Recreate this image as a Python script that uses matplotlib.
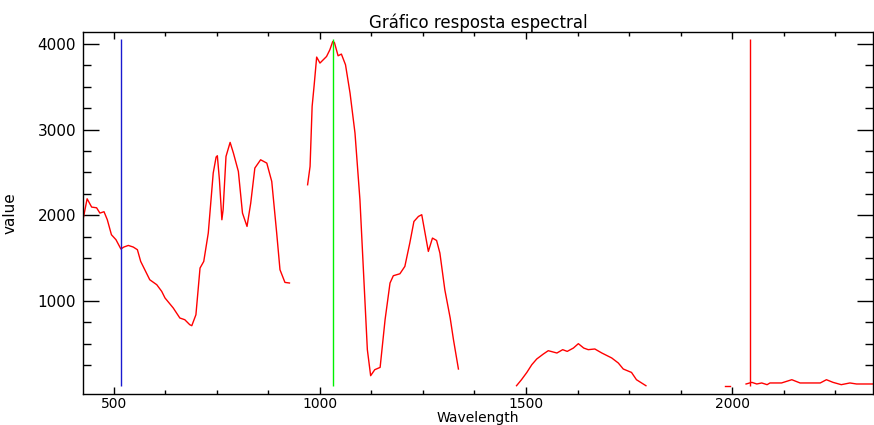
import matplotlib
matplotlib.use("Agg")
import matplotlib.pyplot as plt
from matplotlib.ticker import FixedLocator

# Spectral response data, split into visible segments
seg1_x = [425, 435, 446, 458, 466, 476, 484, 494, 505, 517, 524, 535, 547, 557, 565,
          587, 604, 616, 624, 644, 660, 672, 684, 689, 699, 709, 718, 729, 741, 748,
          751, 756, 762, 765, 772, 782, 790, 802, 812, 823, 832, 842, 856, 871, 883,
          895, 903, 915, 926]
seg1_y = [1946, 2191, 2094, 2086, 2024, 2040, 1946, 1771, 1713, 1604, 1627, 1646, 1627,
          1596, 1459, 1245, 1187, 1109, 1032, 915, 798, 778, 720, 708, 836, 1382, 1459,
          1791, 2492, 2679, 2694, 2414, 1946, 2063, 2686, 2850, 2725, 2511, 2024, 1868,
          2141, 2550, 2647, 2608, 2394, 1791, 1362, 1214, 1207]

seg2_x = [970, 976, 981, 986, 992, 1000, 1016, 1024, 1031, 1035, 1044, 1052, 1062, 1073,
          1085, 1097, 1109, 1115, 1123, 1133, 1146, 1158, 1170, 1178, 1194, 1206, 1218,
          1228, 1239, 1247, 1255, 1263, 1273, 1283, 1291, 1303, 1316, 1324, 1336]
seg2_y = [2355, 2569, 3270, 3523, 3847, 3777, 3854, 3932, 4029, 4018, 3862, 3882, 3757,
          3426, 2959, 2180, 1012, 428, 124, 194, 221, 778, 1207, 1292, 1315, 1401, 1674,
          1926, 1985, 2005, 1791, 1576, 1732, 1704, 1557, 1128, 798, 544, 202]

seg3_x = [1477, 1489, 1502, 1514, 1526, 1542, 1554, 1575, 1589, 1600, 1615, 1627, 1640,
          1651, 1667, 1684, 1708, 1724, 1736, 1756, 1768, 1791]
seg3_y = [7, 77, 162, 252, 319, 377, 416, 389, 428, 408, 447, 498, 447, 428, 436, 389,
          331, 272, 202, 162, 77, 7]

seg4_x = [1983, 1994]
seg4_y = [7, 7]

seg5_x = [2034, 2048, 2060, 2072, 2085, 2092, 2120, 2145, 2165, 2214, 2229, 2245, 2265,
          2286, 2302, 2342]
seg5_y = [27, 46, 27, 39, 19, 39, 39, 77, 39, 39, 77, 46, 19, 39, 27, 27]

# Vertical marker lines
marker_x = [517, 1032, 2043]
marker_colors = ["#1a1ad0", "#00f000", "#ff0000"]
marker_top = 4060

title = "Gráfico resposta espectral"
xlabel = "Wavelength"
ylabel = "value"
xticks_major = [500, 1000, 1500, 2000]
yticks_major = [1000, 2000, 3000, 4000]

fig = plt.figure(figsize=(8.74, 4.25), dpi=100)
ax = fig.add_axes([83 / 874, 1 - 394 / 425, (873 - 83) / 874, (394 - 32) / 425])

red = "#ff0000"
for sx, sy in [(seg1_x, seg1_y), (seg2_x, seg2_y), (seg3_x, seg3_y),
               (seg4_x, seg4_y), (seg5_x, seg5_y)]:
    ax.plot(sx, sy, color=red, lw=1.0)

ax.vlines(marker_x, 0, marker_top, colors=marker_colors, lw=1.0)

ax.set_xlim(425, 2342)
ax.set_ylim(-90, 4140)

ax.xaxis.set_major_locator(FixedLocator(xticks_major))
ax.xaxis.set_minor_locator(FixedLocator([v for v in range(500, 2342, 125) if v % 500 != 0]))
ax.yaxis.set_major_locator(FixedLocator(yticks_major))
ax.yaxis.set_minor_locator(FixedLocator([v for v in range(250, 4140, 250) if v % 1000 != 0]))

ax.tick_params(axis="both", which="both", direction="in", top=True, right=True,
               color="black", width=1.0, labelsize=11)
ax.tick_params(axis="x", which="major", length=5.2, pad=2, labelsize=10)
ax.tick_params(axis="x", which="minor", length=2.9)
ax.tick_params(axis="y", which="major", length=11.5, pad=5)
ax.tick_params(axis="y", which="minor", length=5.8)
for s in ax.spines.values():
    s.set_linewidth(1.0)

ax.set_title(title, fontsize=12, pad=3)
ax.set_xlabel(xlabel, fontsize=10, labelpad=0)
ax.set_ylabel(ylabel, fontsize=11, labelpad=14)

fig.savefig("out.png", dpi=100)
